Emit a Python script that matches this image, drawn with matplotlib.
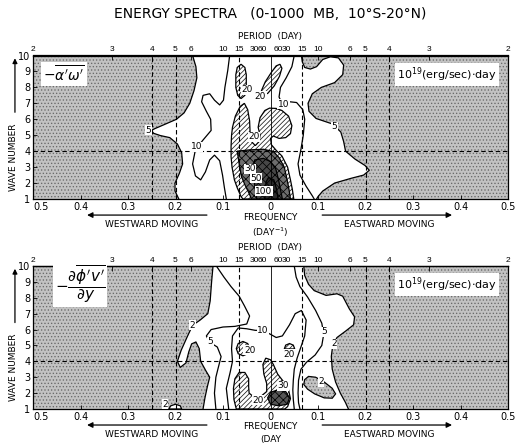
import matplotlib
matplotlib.use('Agg')
import matplotlib.pyplot as plt
from matplotlib.patches import Polygon, Rectangle

plt.rcParams['font.family'] = 'DejaVu Sans'
plt.rcParams['hatch.linewidth'] = 0.55

# frequency axis (day^-1), wave numbers and period labels
freq_ticks = [-0.5, -0.4, -0.3, -0.2, -0.1, 0.0, 0.1, 0.2, 0.3, 0.4, 0.5]
freq_labels = ['0.5', '0.4', '0.3', '0.2', '0.1', '0', '0.1', '0.2', '0.3', '0.4', '0.5']
periods = [2, 3, 4, 5, 6, 10, 15, 30, 60]
wave_numbers = list(range(1, 11))
guide_freqs = [-0.25, -0.2, -1 / 15, 1 / 15, 0.2, 0.25]
guide_wave = 4

# ---- upper panel: -a'w' , isolines 5, 10, 20, 30, 50, 100 (freq, wave number)
top_c5_west = [(-0.164, 10), (-0.157, 9.3), (-0.155, 8.6), (-0.161, 7.8), (-0.170, 7.0),
               (-0.182, 6.4), (-0.198, 6.0), (-0.225, 5.65), (-0.243, 5.42), (-0.251, 5.3),
               (-0.246, 5.12), (-0.232, 4.98), (-0.212, 4.85), (-0.196, 4.45), (-0.187, 3.9),
               (-0.185, 3.2), (-0.192, 2.6), (-0.201, 2.0), (-0.201, 1.5), (-0.193, 1.0)]
top_c5_east = [(0.065, 10), (0.067, 9.6), (0.072, 9.25), (0.084, 9.15), (0.097, 9.3),
               (0.110, 9.75), (0.126, 9.92), (0.143, 9.85), (0.154, 9.4), (0.152, 8.8),
               (0.135, 8.3), (0.107, 8.0), (0.088, 7.6), (0.079, 7.0), (0.081, 6.5),
               (0.096, 6.05), (0.131, 5.7), (0.148, 5.2), (0.154, 4.6), (0.158, 4.0),
               (0.178, 3.5), (0.199, 3.1), (0.208, 2.8), (0.196, 2.5), (0.170, 2.3),
               (0.135, 2.0), (0.110, 1.5), (0.100, 1.15), (0.097, 1.0)]
top_c10_west = [(-0.086, 10), (-0.090, 9.06), (-0.096, 8.0), (-0.099, 7.2), (-0.107, 6.9),
                (-0.118, 7.2), (-0.128, 7.6), (-0.142, 7.5), (-0.145, 7.1), (-0.135, 6.5),
                (-0.126, 6.0), (-0.125, 5.3), (-0.142, 4.7), (-0.158, 4.1), (-0.164, 3.2),
                (-0.158, 2.45), (-0.147, 2.2), (-0.137, 2.7), (-0.128, 3.45), (-0.118, 3.75),
                (-0.107, 3.4), (-0.101, 2.5), (-0.097, 1.7), (-0.093, 1.0)]
top_c10_east = [(0.050, 10), (0.045, 9.3), (0.033, 8.6), (0.021, 8.0), (0.018, 7.4),
                (0.024, 7.0), (0.040, 7.1), (0.055, 7.05), (0.068, 6.6), (0.072, 6.0),
                (0.069, 5.0), (0.064, 4.1), (0.058, 3.2), (0.062, 2.5), (0.075, 1.8),
                (0.088, 1.2), (0.092, 1.0)]
top_c20_a = [(-0.062, 9.45), (-0.054, 9.25), (-0.051, 8.8), (-0.051, 8.0), (-0.054, 7.5),
             (-0.062, 7.3), (-0.069, 7.5), (-0.073, 8.0), (-0.073, 8.8), (-0.070, 9.25)]
top_c20_b = [(0.020, 9.45), (0.024, 9.2), (0.019, 8.7), (0.008, 8.1), (-0.006, 7.62),
             (-0.015, 7.55), (-0.019, 7.8), (-0.011, 8.35), (0.002, 8.95), (0.012, 9.35)]
top_c20_main = [(-0.055, 7.0), (-0.048, 6.6), (-0.044, 5.9), (-0.043, 5.2), (-0.040, 4.6),
                (-0.032, 4.35), (-0.024, 4.6), (-0.022, 5.0), (-0.026, 5.5), (-0.022, 6.1),
                (-0.012, 6.55), (-0.002, 6.7), (0.012, 6.68), (0.024, 6.55), (0.038, 6.2),
                (0.045, 5.6), (0.042, 5.1), (0.032, 4.85), (0.018, 4.8), (0.006, 4.95),
                (0.000, 4.8), (0.002, 4.4), (0.012, 4.05), (0.024, 3.7), (0.036, 3.0),
                (0.042, 2.2), (0.046, 1.6), (0.049, 1.0), (-0.058, 1.0), (-0.062, 1.15),
                (-0.070, 1.7), (-0.076, 2.2), (-0.081, 3.0), (-0.083, 3.65), (-0.083, 4.3),
                (-0.082, 5.0), (-0.080, 5.5), (-0.074, 6.2), (-0.064, 6.8)]
top_c30 = [(-0.070, 4.0), (-0.045, 4.08), (-0.015, 4.12), (0.006, 3.98), (0.018, 3.6),
           (0.029, 3.0), (0.035, 2.2), (0.039, 1.6), (0.042, 1.0), (-0.040, 1.0),
           (-0.045, 1.35), (-0.054, 1.9), (-0.061, 2.4), (-0.065, 3.0), (-0.068, 3.6)]
top_c50 = [(-0.033, 3.45), (-0.015, 3.55), (0.000, 3.35), (0.011, 2.9), (0.017, 2.2),
           (0.021, 1.6), (0.025, 1.0), (-0.029, 1.0), (-0.033, 1.8), (-0.036, 2.6),
           (-0.036, 3.1)]
top_c100 = [(-0.004, 2.35), (0.007, 2.2), (0.013, 1.6), (0.016, 1.0), (-0.012, 1.0),
            (-0.011, 1.6), (-0.009, 2.1)]
top_labels = [('5', -0.257, 5.3), ('10', -0.156, 4.27), ('20', -0.049, 7.85),
              ('20', -0.021, 7.45), ('20', -0.034, 4.9), ('30', -0.043, 2.9),
              ('50', -0.030, 2.3), ('100', -0.014, 1.5), ('10', 0.027, 6.95),
              ('5', 0.135, 5.55)]

# ---- lower panel: -d(phi'v')/dy , isolines 2, 5, 10, 20, 30
bot_c2_west = [(-0.121, 10), (-0.124, 9.0), (-0.127, 7.8), (-0.132, 7.0), (-0.148, 6.6),
               (-0.164, 6.27), (-0.176, 5.5), (-0.188, 4.7), (-0.196, 4.0), (-0.190, 3.62),
               (-0.178, 3.9), (-0.172, 4.6), (-0.166, 5.1), (-0.157, 5.22), (-0.150, 4.8),
               (-0.147, 4.0), (-0.136, 3.4), (-0.128, 3.0), (-0.133, 2.4), (-0.138, 1.7),
               (-0.142, 1.0)]
bot_c2_east = [(0.070, 10), (0.072, 9.4), (0.080, 8.85), (0.092, 8.45), (0.117, 8.15),
               (0.140, 8.25), (0.152, 8.1), (0.166, 7.3), (0.177, 6.8), (0.175, 6.3),
               (0.158, 5.9), (0.140, 5.5), (0.131, 5.0), (0.128, 4.3), (0.130, 3.5),
               (0.137, 2.7), (0.147, 2.0), (0.158, 1.4), (0.164, 1.0)]
bot_c2_bump = [(-0.214, 1.0), (-0.210, 1.2), (-0.200, 1.3), (-0.190, 1.2), (-0.187, 1.0)]
bot_c2_island = [(0.072, 2.85), (0.080, 3.05), (0.095, 3.0), (0.113, 2.7), (0.130, 2.3),
                 (0.137, 1.95), (0.130, 1.68), (0.113, 1.7), (0.093, 1.95), (0.078, 2.25),
                 (0.070, 2.55)]
bot_c5_west = [(-0.114, 10), (-0.098, 9.3), (-0.083, 8.7), (-0.066, 8.1), (-0.055, 7.5),
               (-0.044, 6.85), (-0.050, 6.35), (-0.075, 6.2), (-0.100, 6.16), (-0.125, 6.0),
               (-0.135, 5.6), (-0.128, 5.2), (-0.112, 4.9), (-0.104, 4.3), (-0.110, 3.6),
               (-0.115, 3.0), (-0.118, 2.0), (-0.115, 1.0)]
bot_c5_east = [(0.050, 10), (0.054, 9.3), (0.062, 8.7), (0.078, 8.05), (0.095, 7.2),
               (0.108, 6.4), (0.112, 5.7), (0.108, 5.0), (0.094, 4.4), (0.076, 3.95),
               (0.064, 3.5), (0.059, 2.8), (0.058, 2.0), (0.059, 1.4), (0.062, 1.0)]
bot_c10 = [(-0.088, 1.0), (-0.093, 2.3), (-0.085, 3.3), (-0.080, 4.0), (-0.082, 4.8),
           (-0.080, 5.6), (-0.068, 6.1), (-0.050, 6.05), (-0.032, 5.95), (-0.016, 5.95),
           (0.000, 5.7), (0.012, 5.5), (0.025, 5.6), (0.040, 6.3), (0.052, 7.0),
           (0.065, 7.2), (0.075, 6.6), (0.072, 5.6), (0.064, 4.9), (0.056, 4.2),
           (0.050, 3.5), (0.048, 2.8), (0.047, 2.2), (0.048, 1.6), (0.050, 1.0)]
bot_c20_a = [(-0.058, 5.25), (-0.048, 5.12), (-0.044, 4.8), (-0.048, 4.48), (-0.058, 4.35),
             (-0.068, 4.48), (-0.072, 4.8), (-0.068, 5.12)]
bot_c20_b = [(0.040, 5.12), (0.048, 5.02), (0.051, 4.78), (0.029, 4.78), (0.032, 5.02)]
bot_c20_main = [(-0.072, 1.0), (-0.077, 1.6), (-0.078, 2.3), (-0.075, 2.9), (-0.066, 3.3),
                (-0.054, 3.3), (-0.046, 2.9), (-0.046, 2.4), (-0.045, 2.0), (-0.035, 1.75),
                (-0.020, 1.8), (-0.008, 2.1), (-0.008, 2.6), (-0.014, 3.2), (-0.016, 3.8),
                (-0.010, 4.2), (0.000, 4.1), (0.006, 3.8), (0.015, 3.2), (0.028, 2.7),
                (0.038, 2.2), (0.042, 1.65), (0.036, 1.15), (0.030, 1.0)]
bot_c30 = [(-0.006, 1.7), (0.000, 2.05), (0.015, 2.2), (0.032, 2.1), (0.040, 1.7),
           (0.035, 1.3), (0.017, 1.2), (0.000, 1.3)]
bot_labels = [('2', -0.164, 6.27), ('2', -0.222, 1.3), ('5', -0.126, 5.25),
              ('10', -0.016, 5.95), ('20', -0.044, 4.7), ('20', 0.040, 4.45),
              ('20', -0.027, 1.55), ('30', 0.026, 2.45), ('2', 0.106, 2.7),
              ('5', 0.114, 5.85), ('2', 0.134, 5.1)]

STIPPLE = dict(facecolor='#c2c2c2', edgecolor='#6a6a6a', hatch='.....')
HATCH20 = dict(facecolor='white', edgecolor='#1a1a1a', hatch='///////')
NARROW = ['Liberation Sans Narrow', 'Liberation Sans', 'DejaVu Sans']


def shade(ax, pts, z, outline=True, **style):
    ax.add_patch(Polygon(pts, closed=True, lw=0, zorder=z, **style))
    if outline:
        ax.add_patch(Polygon(pts, closed=True, fill=False, edgecolor='black',
                             lw=0.9, zorder=z + 0.1))


def isoline(ax, pts):
    xs, ys = zip(*pts)
    ax.plot(xs, ys, color='black', lw=0.9, zorder=6)


def frame_panel(ax, name, name_x, fsize, yoffs, unit_text):
    ax.set_xlim(-0.5, 0.5)
    ax.set_ylim(1, 10)
    # low values stippled everywhere, higher ranges painted over
    ax.add_patch(Rectangle((0, 0), 1, 1, transform=ax.transAxes, lw=0, zorder=0, **STIPPLE))
    for f in guide_freqs:
        ax.axvline(f, color='black', lw=0.8, ls=(0, (4, 2.5)), zorder=7)
    ax.axhline(guide_wave, color='black', lw=0.8, ls=(0, (4, 2.5)), zorder=7)
    ax.axvline(0, color='black', lw=0.6, zorder=7)

    ax.set_xticks(freq_ticks)
    ax.set_xticklabels(freq_labels)
    ax.get_xticklabels()[0].set_horizontalalignment('left')
    ax.set_yticks(wave_numbers)
    ax.tick_params(direction='in', length=3, width=0.6, labelsize=7, pad=2)
    for sp in ax.spines.values():
        sp.set_linewidth(0.9)

    top = ax.secondary_xaxis('top')
    pos = [-1 / p for p in periods] + [1 / p for p in periods[::-1]]
    lab = [str(p) for p in periods] + [str(p) for p in periods[::-1]]
    top.set_xticks(pos)
    top.set_xticklabels(lab, family=NARROW)
    top.tick_params(direction='in', length=3.5, width=0.6, labelsize=6, pad=1.5)
    top.spines['top'].set_linewidth(0.9)
    ax.text(0.5, 1.13, 'PERIOD  (DAY)', transform=ax.transAxes, ha='center',
            va='center', fontsize=6.5)

    # axis annotations below the frequency axis
    y_arrow, y_dir, y_freq, y_unit = yoffs
    ax.annotate('', xy=(-0.392, y_arrow), xytext=(-0.128, y_arrow),
                xycoords=('data', 'axes fraction'), annotation_clip=False,
                arrowprops=dict(arrowstyle='-|>', lw=0.9, color='black', mutation_scale=8))
    ax.annotate('', xy=(0.388, y_arrow), xytext=(0.103, y_arrow),
                xycoords=('data', 'axes fraction'), annotation_clip=False,
                arrowprops=dict(arrowstyle='-|>', lw=0.9, color='black', mutation_scale=8))
    trans = ax.get_xaxis_transform()
    ax.text(-0.25, y_dir, 'WESTWARD MOVING', transform=trans, ha='center', va='center', fontsize=6.5)
    ax.text(0.25, y_dir, 'EASTWARD MOVING', transform=trans, ha='center', va='center', fontsize=6.5)
    ax.text(0.0, y_freq, 'FREQUENCY', transform=trans, ha='center', va='center', fontsize=6.5)
    ax.text(0.0, y_unit, unit_text, transform=trans, ha='center', va='center', fontsize=6.5)

    ax.text(-0.04, 0.29, 'WAVE NUMBER', transform=ax.transAxes, rotation=90,
            ha='center', va='center', fontsize=6.5)
    ax.annotate('', xy=(-0.038, 1.0), xytext=(-0.038, 0.585), xycoords='axes fraction',
                annotation_clip=False,
                arrowprops=dict(arrowstyle='-|>', lw=0.9, color='black', mutation_scale=7))

    box = dict(facecolor='white', edgecolor='none', pad=1.5)
    ax.text(name_x, 0.87, name, transform=ax.transAxes,
            ha='center', va='center', fontsize=fsize, bbox=box, zorder=9)
    ax.text(0.872, 0.868, r'10$^{19}$(erg/sec)$\cdot$day', transform=ax.transAxes,
            ha='center', va='center', fontsize=8, bbox=box, zorder=9)


def put_labels(ax, labels):
    for txt, f, w in labels:
        ax.text(f, w, txt, ha='center', va='center', fontsize=6.5, zorder=9,
                bbox=dict(facecolor='white', edgecolor='none', pad=0.3))


fig = plt.figure(figsize=(5.18, 4.46), dpi=100)
fig.text(0.522, 1 - 14 / 446, 'ENERGY SPECTRA   (0-1000  MB,  10°S-20°N)',
         ha='center', va='center', fontsize=10)

ax1 = fig.add_axes([33 / 518, 1 - 199 / 446, 475 / 518, 143.5 / 446])
frame_panel(ax1, r"$-\overline{\alpha^{\prime}\omega^{\prime}}$", 0.066, 10,
            (-0.112, -0.18, -0.13, -0.23), '(DAY$^{-1}$)')
shade(ax1, top_c5_west + top_c5_east[::-1], 1, outline=False, facecolor='white')
isoline(ax1, top_c5_west)
isoline(ax1, top_c5_east)
isoline(ax1, top_c10_west)
isoline(ax1, top_c10_east)
shade(ax1, top_c20_a, 2, **HATCH20)
shade(ax1, top_c20_b, 2, **HATCH20)
shade(ax1, top_c20_main, 2, **HATCH20)
shade(ax1, top_c30, 3, facecolor='#6e6e6e', edgecolor='black', hatch='xxxx')
shade(ax1, top_c50, 4, facecolor='#474747', edgecolor='black', hatch='xxxx')
shade(ax1, top_c100, 5, facecolor='#2b2b2b', edgecolor='black', hatch='xxxx')
put_labels(ax1, top_labels)

ax2 = fig.add_axes([33 / 518, 1 - 409 / 446, 475 / 518, 143 / 446])
frame_panel(ax2, r"$-\dfrac{\partial\overline{\phi^{\prime}v^{\prime}}}{\partial y}$", 0.099, 11,
            (-0.112, -0.175, -0.12, -0.21), '(DAY')
shade(ax2, bot_c2_west + bot_c2_east[::-1], 1, outline=False, facecolor='white')
shade(ax2, bot_c2_bump, 1, facecolor='white')
shade(ax2, bot_c2_island, 1.5, **STIPPLE)
isoline(ax2, bot_c2_west)
isoline(ax2, bot_c2_east)
isoline(ax2, bot_c5_west)
isoline(ax2, bot_c5_east)
isoline(ax2, bot_c10)
shade(ax2, bot_c20_a, 2, **HATCH20)
shade(ax2, bot_c20_b, 2, **HATCH20)
shade(ax2, bot_c20_main, 2, **HATCH20)
shade(ax2, bot_c30, 3, facecolor='#555555', edgecolor='black', hatch='xxxx')
put_labels(ax2, bot_labels)

fig.savefig('out.png', dpi=100)
